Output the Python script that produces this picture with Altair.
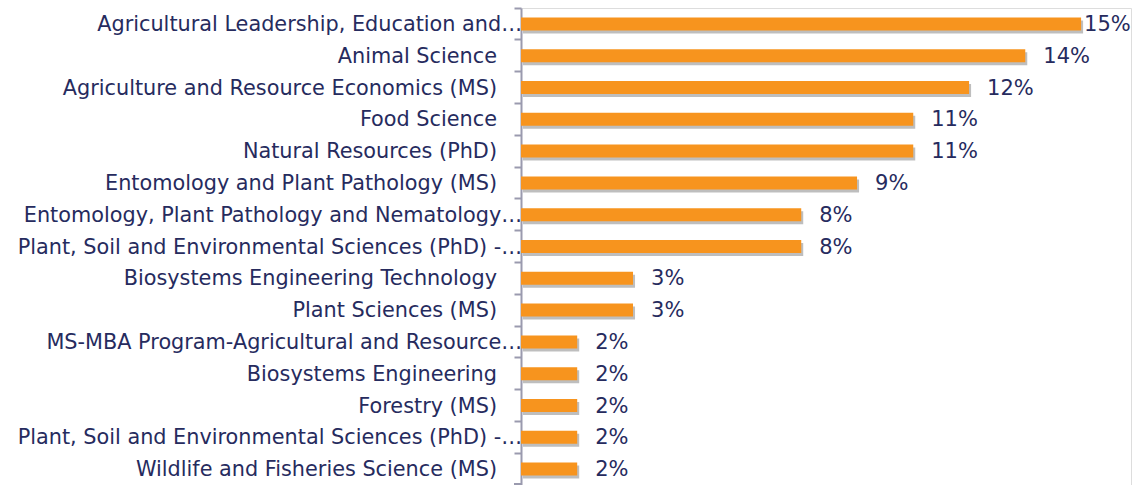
import altair as alt
import pandas as pd

programs = [
    "Agricultural Leadership, Education and…",
    "Animal Science",
    "Agriculture and Resource Economics (MS)",
    "Food Science",
    "Natural Resources (PhD)",
    "Entomology and Plant Pathology (MS)",
    "Entomology, Plant Pathology and Nematology…",
    "Plant, Soil and Environmental Sciences (PhD) -…",
    "Biosystems Engineering Technology",
    "Plant Sciences (MS)",
    "MS-MBA Program-Agricultural and Resource…",
    "Biosystems Engineering",
    "Forestry (MS)",
    "Plant, Soil and Environmental Sciences (PhD) -…\u200b",
    "Wildlife and Fisheries Science (MS)",
]
shares = [15.15, 13.64, 12.12, 10.61, 10.61, 9.09, 7.58, 7.58,
          3.03, 3.03, 1.52, 1.52, 1.52, 1.52, 1.52]
labels = ["15%", "14%", "12%", "11%", "11%", "9%", "8%", "8%",
          "3%", "3%", "2%", "2%", "2%", "2%", "2%"]

df = pd.DataFrame({"program": programs, "share": shares, "label": labels})

FONT = "DejaVu Sans"
NAVY = "#262B5E"
GREY = "#9A9AAE"

y_enc = alt.Y(
    "program:N",
    sort=programs,
    scale=alt.Scale(paddingInner=0, paddingOuter=0),
    axis=alt.Axis(
        title=None,
        labels=False,
        bandPosition=0,
        tickSize=7,
        tickColor=GREY,
        tickWidth=2,
        domainColor=GREY,
        domainWidth=2,
    ),
)
x_enc = alt.X(
    "share:Q",
    scale=alt.Scale(domain=[0, 16.5], nice=False),
    axis=None,
)

base = alt.Chart(df)

shadow = base.mark_bar(
    size=13, color="#6f6f6f", opacity=0.45, xOffset=2, yOffset=3
).encode(x=x_enc, y=y_enc)

bars = base.mark_bar(size=13, color="#F7941E").encode(x=x_enc, y=y_enc)

text_big = base.transform_filter("datum.share > 15").mark_text(
    align="left", baseline="middle", dx=3, dy=1, font=FONT, fontSize=21, color=NAVY
).encode(x=x_enc, y=y_enc, text="label:N")

text_rest = base.transform_filter("datum.share <= 15").mark_text(
    align="left", baseline="middle", dx=18, dy=1, font=FONT, fontSize=21, color=NAVY
).encode(x=x_enc, y=y_enc, text="label:N")

trunc = "indexof(datum.program, '…') >= 0"
cat_trunc = base.transform_filter(trunc).mark_text(
    align="right", baseline="middle", dy=1, font=FONT, fontSize=20.8, color=NAVY
).encode(y=y_enc, x=alt.value(1), text="program:N")

cat_full = base.transform_filter("!(" + trunc + ")").mark_text(
    align="right", baseline="middle", dy=1, font=FONT, fontSize=20.8, color=NAVY
).encode(y=y_enc, x=alt.value(-24), text="program:N")

bottom_tick = base.mark_rule(color=GREY, strokeWidth=2).encode(
    x=alt.value(-7), x2=alt.value(0), y=alt.value(476)
)

chart = (
    alt.layer(shadow, bars, text_big, text_rest, cat_trunc, cat_full, bottom_tick)
    .properties(
        width=610,
        height=477,
        autosize=alt.AutoSizeParams(type="none"),
        padding={"left": 521, "top": 8, "right": 6, "bottom": 0},
    )
    .configure_view(stroke=None)
    .configure(background="white")
)

chart.save("out.html", embed_options={"renderer": "svg", "actions": False})
